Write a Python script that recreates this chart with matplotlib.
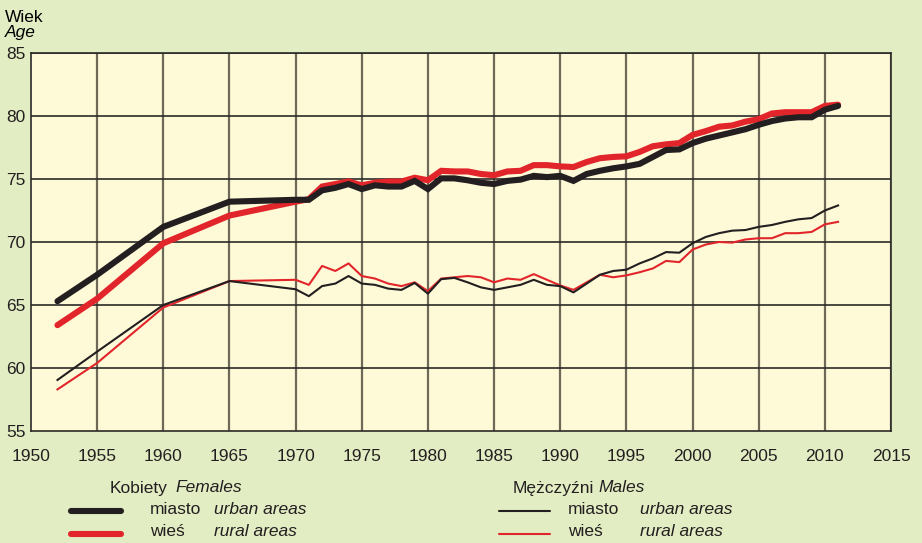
import matplotlib
matplotlib.use("Agg")
import matplotlib.pyplot as plt
from matplotlib.lines import Line2D

plt.rcParams['font.family'] = ['Liberation Sans Narrow', 'Liberation Sans', 'DejaVu Sans']

# lata (okresy 1952-1965, potem co roku)
years = [1952, 1955, 1960, 1965] + list(range(1970, 2012))

# Kobiety - miasto
fem_urban = [65.3, 67.4, 71.2, 73.2,
             73.35, 73.35, 74.1, 74.3, 74.6, 74.2, 74.5, 74.4, 74.4, 74.85,
             74.2, 75.05, 75.05, 74.9, 74.7, 74.6, 74.85, 74.95, 75.25, 75.15,
             75.25, 74.85, 75.4, 75.65, 75.85, 76.0, 76.2, 76.75, 77.3, 77.35,
             77.85, 78.2, 78.45, 78.7, 78.95, 79.3, 79.6, 79.8, 79.9, 79.9,
             80.5, 80.8]
# Kobiety - wies
fem_rural = [63.4, 65.5, 69.9, 72.1,
             73.2, 73.4, 74.4, 74.6, 74.8, 74.5, 74.7, 74.8, 74.8, 75.1,
             74.9, 75.65, 75.6, 75.6, 75.4, 75.3, 75.6, 75.65, 76.1, 76.1,
             76.0, 75.95, 76.35, 76.65, 76.75, 76.8, 77.15, 77.6, 77.75, 77.85,
             78.5, 78.8, 79.15, 79.25, 79.55, 79.75, 80.2, 80.3, 80.3, 80.3,
             80.8, 80.9]
# Mezczyzni - miasto
male_urban = [59.05, 61.3, 65.0, 66.9,
              66.25, 65.7, 66.5, 66.7, 67.3, 66.7, 66.6, 66.3, 66.2, 66.75,
              65.9, 67.05, 67.15, 66.8, 66.4, 66.2, 66.4, 66.6, 67.0, 66.6,
              66.5, 66.0, 66.7, 67.4, 67.7, 67.8, 68.3, 68.7, 69.2, 69.15,
              69.9, 70.4, 70.7, 70.9, 70.95, 71.2, 71.35, 71.6, 71.8, 71.9,
              72.5, 72.9]
# Mezczyzni - wies
male_rural = [58.3, 60.4, 64.8, 66.9,
              67.0, 66.6, 68.1, 67.7, 68.3, 67.3, 67.1, 66.7, 66.5, 66.8,
              66.1, 67.1, 67.2, 67.3, 67.2, 66.8, 67.1, 67.0, 67.45, 67.0,
              66.55, 66.2, 66.8, 67.4, 67.2, 67.35, 67.6, 67.9, 68.5, 68.4,
              69.4, 69.8, 70.0, 69.95, 70.2, 70.3, 70.3, 70.7, 70.7, 70.8,
              71.4, 71.6]

BLACK = '#231f20'
RED = '#e2252b'
FIG_BG = '#e3edc4'
AX_BG = '#fefad8'

fig = plt.figure(figsize=(9.22, 5.43), dpi=100, facecolor=FIG_BG)
ax = fig.add_axes([31/922, 1 - 431/543, 860/922, 378/543])
ax.set_facecolor(AX_BG)

ax.set_xlim(1950, 2015)
ax.set_ylim(55, 85)
ax.set_xticks(range(1950, 2016, 5))
ax.set_yticks(range(55, 86, 5))

# siatka
for x in range(1955, 2016, 5):
    ax.axvline(x, color='#6d6857', lw=1.6, zorder=1)
for y in range(60, 86, 5):
    ax.axhline(y, color='#2c2a28', lw=1.2, zorder=1)
for s in ax.spines.values():
    s.set_color('#2c2a28')
    s.set_linewidth(1.2)

ax.tick_params(length=0, labelsize=12.5, colors='#231f20')
ax.tick_params(axis='x', pad=13)
ax.tick_params(axis='y', pad=4)

ax.plot(years, fem_rural, color=RED, lw=4.4, solid_capstyle='round', solid_joinstyle='miter', zorder=3)
ax.plot(years, fem_urban, color=BLACK, lw=4.4, solid_capstyle='round', solid_joinstyle='miter', zorder=4)
ax.plot(years, male_rural, color=RED, lw=1.5, zorder=3)
ax.plot(years, male_urban, color=BLACK, lw=1.5, zorder=4)

fig.text(5/922, 1 - 17/543, 'Wiek', fontsize=12.5, va='center', ha='left')
fig.text(5/922, 1 - 32/543, 'Age', fontsize=12.5, style='italic', va='center', ha='left')


# legenda (wspolrzedne w pikselach)
def legend_text(x, y, s, italic=False):
    fig.text(x / 922, 1 - y / 543, s, fontsize=12.5, va='center', ha='left',
             style='italic' if italic else 'normal', color='#231f20')


legend_text(110, 488, 'Kobiety')
legend_text(175, 488, 'Females', True)
legend_text(150, 510, 'miasto')
legend_text(214, 510, 'urban areas', True)
legend_text(150, 532, 'wieś')
legend_text(214, 532, 'rural areas', True)

legend_text(513, 488, 'Mężczyźni')
legend_text(598, 488, 'Males', True)
legend_text(568, 510, 'miasto')
legend_text(640, 510, 'urban areas', True)
legend_text(568, 532, 'wieś')
legend_text(640, 532, 'rural areas', True)

for x0, x1, y, c, w in [(71, 121, 511, BLACK, 4.4), (71, 121, 534, RED, 4.4),
                        (499, 550, 511, BLACK, 1.5), (499, 550, 534, RED, 1.5)]:
    fig.add_artist(Line2D([x0 / 922, x1 / 922], [1 - y / 543, 1 - y / 543],
                          color=c, lw=w, solid_capstyle='round'))

fig.savefig('out.png', dpi=100, facecolor=FIG_BG)
